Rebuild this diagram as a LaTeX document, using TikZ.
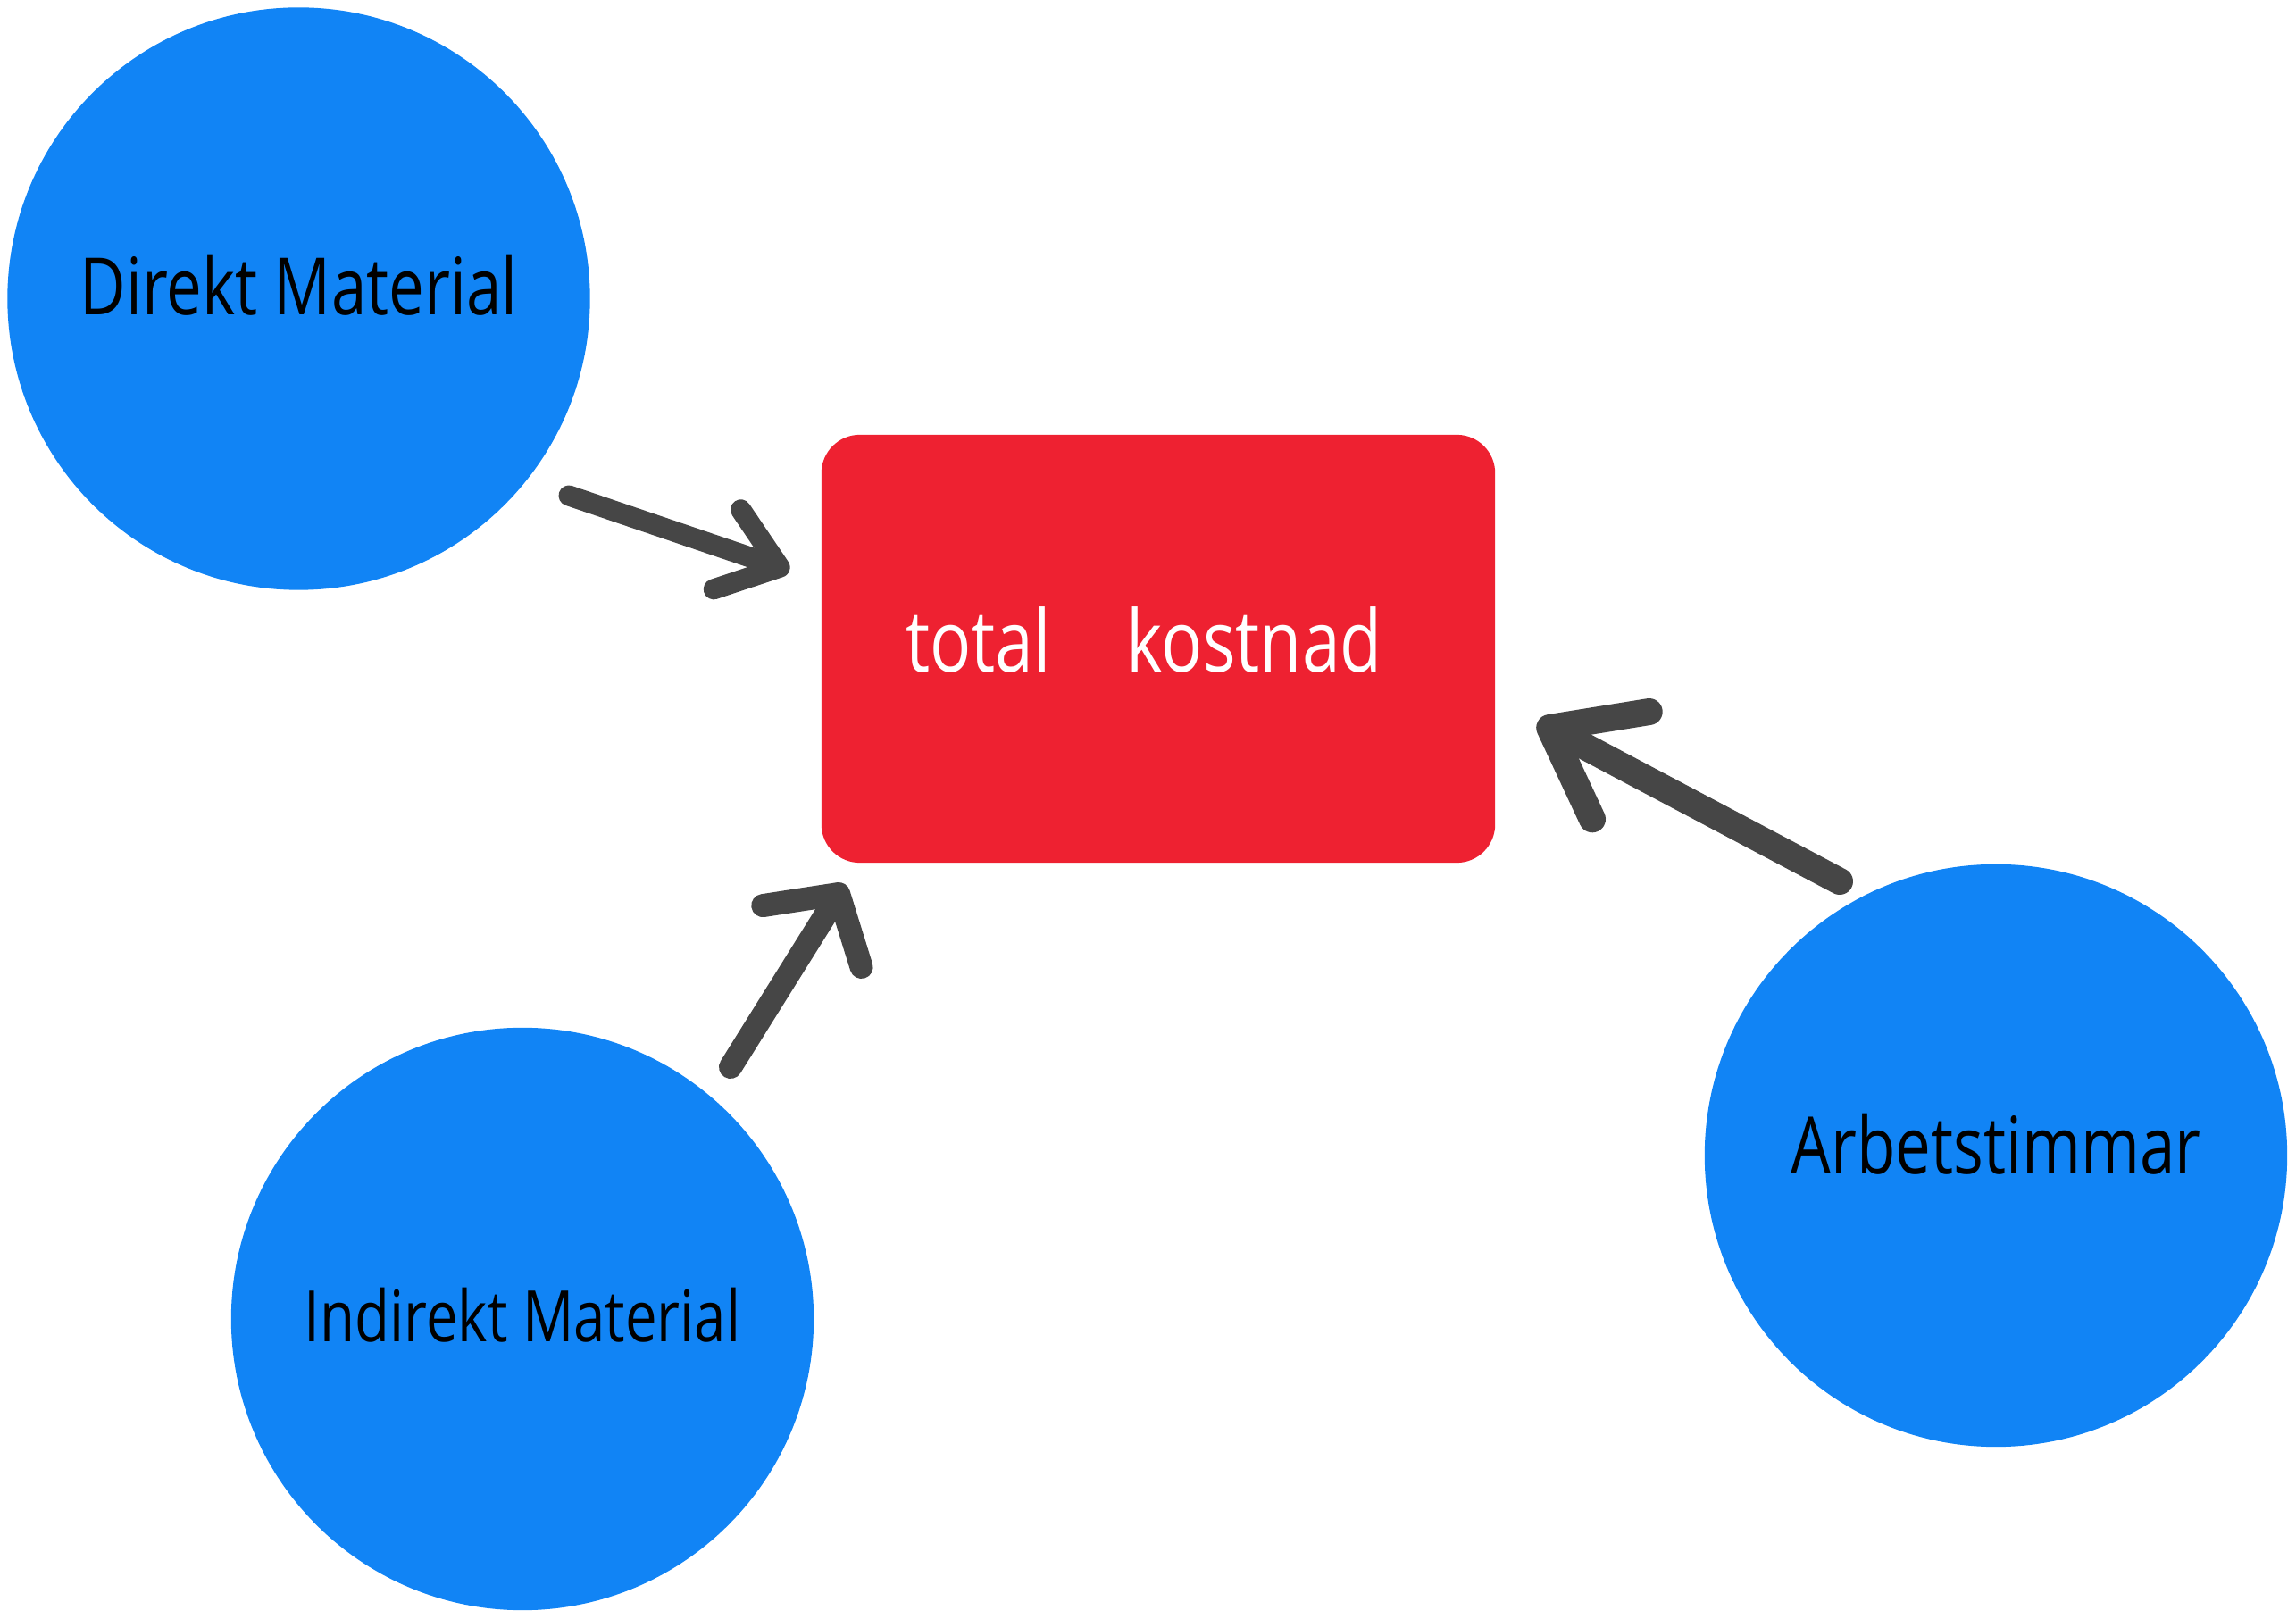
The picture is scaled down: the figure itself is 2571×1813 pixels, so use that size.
\documentclass[tikz,border=0pt]{standalone}
\usepackage{fontspec}
\setmainfont{Open Sans}[FakeStretch=0.8]
\usetikzlibrary{arrows.meta}
\definecolor{nodeblue}{HTML}{1184F5}
\definecolor{nodered}{HTML}{EE2131}
\definecolor{arrowgray}{HTML}{464646}
\begin{document}
\begin{tikzpicture}[x=0.01cm,y=-0.01cm,
	factor/.style={
		circle,
		fill=nodeblue,
		inner sep=0pt,
		minimum size=6.52cm,
		text depth=0.32cm,
		font=\fontsize{25.2}{30}\selectfont
	},
	total/.style={
		rectangle,
		rounded corners=0.43cm,
		fill=nodered,
		text=white,
		inner sep=0pt,
		minimum width=7.54cm,
		minimum height=4.79cm,
		text depth=0.21cm,
		font=\fontsize{27.3}{32}\selectfont
	},
	ArrowC/.style={% Arrows with round ends
		arrowgray,
		line cap=round,
	},
]
	\useasboundingbox (0,0) rectangle (2571,1813);

	\node [factor] (dm) at (334.5,334.5) {Direkt Material};
	\node [factor,text depth=0.10cm,font=\fontsize{22.6}{28}\selectfont] (im) at (585,1477) {Indirekt Material};
	\node [factor,text depth=0.26cm] (at) at (2235,1294) {Arbetstimmar};

	\node [total] (tk) at (1297,726.5) {total\hspace*{0.85cm}kostnad\hspace*{0.32cm}};

	\coordinate (dm-out) at (637,555);
	\coordinate (tk-dm) at (884,639);
	\coordinate (im-out) at (818,1195);
	\coordinate (tk-im) at (946,990);
	\coordinate (at-out) at (2060,987);
	\coordinate (tk-at) at (1722,808);

	\draw [ArrowC,line width=0.23cm,-{Straight Barb[length=0.62cm,width=0.94cm,round]}] (dm-out) -- (tk-dm);
	\draw [ArrowC,line width=0.26cm,-{Straight Barb[length=0.56cm,width=1.30cm,round]}] (im-out) -- (tk-im);
	\draw [ArrowC,line width=0.30cm,-{Straight Barb[length=0.90cm,width=1.36cm,round]}] (at-out) -- (tk-at);
\end{tikzpicture}
\end{document}
